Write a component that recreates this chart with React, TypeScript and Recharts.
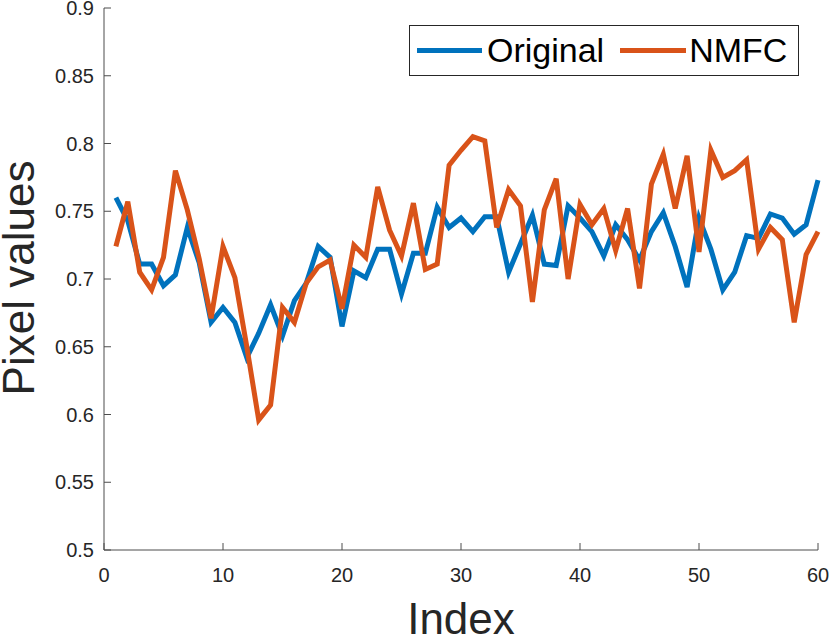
import React from "react";
import { Label, Legend, Line, LineChart, XAxis, YAxis } from "recharts";

const indices = Array.from({ length: 60 }, (_, i) => i + 1);

const original = [
  0.76, 0.743, 0.711, 0.711, 0.695, 0.703, 0.738, 0.712, 0.668, 0.679,
  0.668, 0.642, 0.66, 0.681, 0.658, 0.684, 0.697, 0.724, 0.716, 0.665,
  0.706, 0.701, 0.722, 0.722, 0.689, 0.719, 0.719, 0.753, 0.738, 0.745,
  0.735, 0.746, 0.746, 0.705, 0.726, 0.747, 0.711, 0.71, 0.754, 0.745,
  0.735, 0.717, 0.74, 0.729, 0.714, 0.735, 0.749, 0.724, 0.694, 0.745,
  0.722, 0.692, 0.705, 0.732, 0.73, 0.748, 0.745, 0.733, 0.74, 0.773,
];

const nmfc = [
  0.724, 0.757, 0.705, 0.692, 0.716, 0.78, 0.751, 0.715, 0.671, 0.724,
  0.701, 0.65, 0.596, 0.607, 0.679, 0.668, 0.697, 0.709, 0.714, 0.678,
  0.725, 0.716, 0.768, 0.736, 0.717, 0.756, 0.707, 0.711, 0.784, 0.795,
  0.805, 0.802, 0.738, 0.766, 0.754, 0.683, 0.751, 0.774, 0.7, 0.755,
  0.74, 0.752, 0.721, 0.752, 0.693, 0.77, 0.792, 0.752, 0.791, 0.72,
  0.795, 0.775, 0.78, 0.788, 0.722, 0.738, 0.729, 0.668, 0.718, 0.735,
];

const xTicks = [0, 10, 20, 30, 40, 50, 60];
const yTicks = [0.5, 0.55, 0.6, 0.65, 0.7, 0.75, 0.8, 0.85, 0.9];

const data = indices.map((idx, i) => ({ idx, original: original[i], nmfc: nmfc[i] }));

const AXIS = "#4d4d4d";
const TEXT = "#262626";
const FONT = "'Liberation Sans', Arial, Helvetica, sans-serif";
const BLUE = "#0072BD";
const ORANGE = "#D95319";

const BottomTick = (props: any) => {
  const { x, y, payload } = props;
  return (
    <g>
      <line x1={x} x2={x} y1={y} y2={y - 7} stroke={AXIS} strokeWidth={1} />
      <text x={x} y={y + 32} textAnchor="middle" fontSize={20} fill={TEXT} fontFamily={FONT}>
        {payload.value}
      </text>
    </g>
  );
};

const TopTick = (props: any) => {
  const { x, y } = props;
  return <line x1={x} x2={x} y1={y} y2={y + 7} stroke={AXIS} strokeWidth={1} />;
};

const LeftTick = (props: any) => {
  const { x, y, payload } = props;
  return (
    <g>
      <line x1={x} x2={x + 7} y1={y} y2={y} stroke={AXIS} strokeWidth={1} />
      <text x={x - 10} y={y + 7} textAnchor="end" fontSize={20} fill={TEXT} fontFamily={FONT}>
        {String(Math.round(payload.value * 100) / 100)}
      </text>
    </g>
  );
};

const RightTick = (props: any) => {
  const { x, y } = props;
  return <line x1={x} x2={x - 7} y1={y} y2={y} stroke={AXIS} strokeWidth={1} />;
};

const renderLegend = () => (
  <div
    style={{
      boxSizing: "border-box",
      width: 390,
      height: 51,
      border: `1px solid ${TEXT}`,
      background: "#fff",
      display: "flex",
      alignItems: "center",
      fontFamily: FONT,
      fontSize: 34,
      color: "#000",
    }}
  >
    <span style={{ display: "inline-block", width: 65, height: 5, background: BLUE, marginLeft: 7 }} />
    <span style={{ marginLeft: 5 }}>Original</span>
    <span style={{ display: "inline-block", width: 66, height: 5, background: ORANGE, marginLeft: 16 }} />
    <span style={{ marginLeft: 3 }}>NMFC</span>
  </div>
);

export default function App() {
  return (
    <div style={{ position: "absolute", left: 0, top: 0, width: 830, height: 638, background: "#fff" }}>
      <LineChart width={830} height={638} data={data} margin={{ top: 8, right: 12, bottom: 0, left: 0 }}>
        <XAxis
          dataKey="idx"
          type="number"
          domain={[0, 60]}
          ticks={xTicks}
          height={88}
          tickSize={0}
          tickMargin={0}
          tickLine={false}
          stroke={AXIS}
          tick={<BottomTick />}
          interval={0}
        >
          <Label
            content={() => (
              <text x={461} y={634} textAnchor="middle" fontSize={44} fill={TEXT} fontFamily={FONT}>
                Index
              </text>
            )}
          />
        </XAxis>
        <XAxis
          xAxisId="top"
          orientation="top"
          dataKey="idx"
          type="number"
          domain={[0, 60]}
          ticks={xTicks}
          height={0}
          tickSize={0}
          tickMargin={0}
          tickLine={false}
          stroke={AXIS}
          tick={<TopTick />}
          interval={0}
        />
        <YAxis
          type="number"
          domain={[0.5, 0.9]}
          ticks={yTicks}
          width={104}
          tickSize={0}
          tickMargin={0}
          tickLine={false}
          stroke={AXIS}
          tick={<LeftTick />}
          interval={0}
        >
          <Label
            content={() => (
              <text
                x={34}
                y={278}
                transform="rotate(-90 34 278)"
                textAnchor="middle"
                fontSize={44}
                fill={TEXT}
                fontFamily={FONT}
              >
                Pixel values
              </text>
            )}
          />
        </YAxis>
        <YAxis
          yAxisId="right"
          orientation="right"
          type="number"
          domain={[0.5, 0.9]}
          ticks={yTicks}
          width={0}
          tickSize={0}
          tickMargin={0}
          tickLine={false}
          stroke={AXIS}
          tick={<RightTick />}
          interval={0}
        />
        <Legend
          layout="horizontal"
          align="center"
          verticalAlign="middle"
          content={renderLegend}
          wrapperStyle={{ position: "absolute", left: 409, top: 25, width: 390, height: 51 }}
        />
        <Line
          dataKey="original"
          name="Original"
          stroke={BLUE}
          strokeWidth={5}
          dot={false}
          isAnimationActive={false}
          strokeLinejoin="miter"
        />
        <Line
          dataKey="nmfc"
          name="NMFC"
          stroke={ORANGE}
          strokeWidth={5}
          dot={false}
          isAnimationActive={false}
          strokeLinejoin="miter"
        />
      </LineChart>
    </div>
  );
}
